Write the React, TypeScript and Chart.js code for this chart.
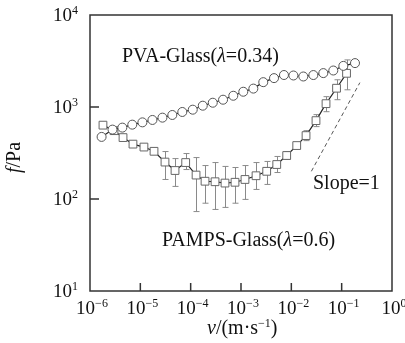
import React, { useEffect, useRef } from "react";
import { Chart, registerables } from "chart.js";

Chart.register(...registerables);

// ---- data ----
const pvaV = [1.7e-6, 2.8e-6, 4.39e-6, 6.92e-6, 1.1e-5, 1.74e-5, 2.75e-5, 4.32e-5, 6.82e-5, 1.1e-4, 1.74e-4, 2.75e-4, 4.4e-4, 7.03e-4, 1.11e-3, 1.76e-3, 2.77e-3, 4.53e-3, 7.14e-3, 1.1e-2, 1.73e-2, 2.74e-2, 4.32e-2, 6.82e-2, 0.108, 0.184];
const pvaF = [473, 568, 597, 643, 681, 723, 766, 819, 883, 935, 1033, 1113, 1200, 1325, 1465, 1585, 1862, 2060, 2227, 2200, 2146, 2225, 2336, 2493, 2799, 3000];

const pampsV = [1.81e-6, 3.0e-6, 4.53e-6, 7.14e-6, 1.18e-5, 1.87e-5, 3.09e-5, 4.89e-5, 7.96e-5, 1.28e-4, 1.93e-4, 3.05e-4, 4.81e-4, 7.6e-4, 1.2e-3, 1.99e-3, 3.24e-3, 5.13e-3, 8.09e-3, 1.28e-2, 1.96e-2, 3.09e-2, 4.89e-2, 7.91e-2, 0.125];
const pampsF = [635, 553, 465, 395, 367, 330, 252, 204, 249, 182, 156, 154, 149, 152, 163, 179, 200, 237, 297, 381, 489, 711, 1087, 1600, 2324];
const pampsHi: (number | null)[] = [null, null, null, null, null, null, 328, 275, 312, 282, 231, 249, 226, 220, 231, 249, 256, 290, 328, 410, 553, 826, 1295, 1977, 3250];
const pampsLo: (number | null)[] = [null, null, null, null, null, null, 163, 137, 209, 73, 90, 77, 81, 90, 99, 127, 144, 194, 269, 353, 431, 612, 889, 1200, 1538];

const slopeV = [0.025, 0.23];
const slopeF = [200, 1840];

const xTickValues = [1e-6, 1e-5, 1e-4, 1e-3, 1e-2, 1e-1, 1];
const xTickExponents = ["−6", "−5", "−4", "−3", "−2", "−1", "0"];
const yTickValues = [10, 100, 1000, 10000];
const yTickExponents = ["1", "2", "3", "4"];
const tickBase = "10";

const SERIF = '"Liberation Serif", "DejaVu Serif", "Times New Roman", serif';

type Run = { t: string; italic?: boolean; sup?: boolean };

function runFont(r: Run, size: number) {
  const s = r.sup ? Math.round(size * 0.62) : size;
  return `${r.italic ? "italic " : ""}${s}px ${SERIF}`;
}

function runsWidth(ctx: CanvasRenderingContext2D, runs: Run[], size: number) {
  let w = 0;
  for (const r of runs) {
    ctx.font = runFont(r, size);
    w += ctx.measureText(r.t).width;
  }
  return w;
}

function drawRuns(ctx: CanvasRenderingContext2D, runs: Run[], x: number, y: number, size: number, align: "left" | "center" | "right" = "left") {
  ctx.textAlign = "left";
  let cx = x;
  if (align !== "left") {
    const w = runsWidth(ctx, runs, size);
    cx = align === "center" ? x - w / 2 : x - w;
  }
  for (const r of runs) {
    ctx.font = runFont(r, size);
    ctx.fillText(r.t, cx, r.sup ? y - size * 0.36 : y);
    cx += ctx.measureText(r.t).width;
  }
}

const decorPlugin = {
  id: "decor",
  beforeDatasetsDraw(chart: any) {
    const ctx: CanvasRenderingContext2D = chart.ctx;
    const xs = chart.scales.x;
    const ys = chart.scales.y;
    ctx.save();
    ctx.strokeStyle = "#8a8a8a";
    ctx.lineWidth = 1;
    for (let i = 0; i < pampsV.length; i++) {
      const hi = pampsHi[i];
      const lo = pampsLo[i];
      if (hi == null || lo == null) continue;
      const px = Math.round(xs.getPixelForValue(pampsV[i])) + 0.5;
      const y1 = ys.getPixelForValue(hi);
      const y2 = ys.getPixelForValue(lo);
      ctx.beginPath();
      ctx.moveTo(px, y1);
      ctx.lineTo(px, y2);
      ctx.moveTo(px - 3, y1);
      ctx.lineTo(px + 3, y1);
      ctx.moveTo(px - 3, y2);
      ctx.lineTo(px + 3, y2);
      ctx.stroke();
    }
    ctx.restore();
  },
  afterDraw(chart: any) {
    const ctx: CanvasRenderingContext2D = chart.ctx;
    const a = chart.chartArea;
    const xs = chart.scales.x;
    const ys = chart.scales.y;
    ctx.save();
    ctx.strokeStyle = "#333";
    ctx.lineWidth = 1.5;
    ctx.strokeRect(a.left, a.top, a.right - a.left, a.bottom - a.top);
    ctx.beginPath();
    for (const v of xTickValues.slice(1, -1)) {
      const px = xs.getPixelForValue(v);
      ctx.moveTo(px, a.bottom);
      ctx.lineTo(px, a.bottom - 8);
    }
    for (const v of yTickValues.slice(1, -1)) {
      const py = ys.getPixelForValue(v);
      ctx.moveTo(a.left, py);
      ctx.lineTo(a.left + 9, py);
    }
    ctx.stroke();

    ctx.fillStyle = "#111";
    ctx.textBaseline = "alphabetic";

    // tick labels (positions from the scales)
    xTickValues.forEach((v, i) => {
      const px = xs.getPixelForValue(v);
      drawRuns(ctx, [{ t: tickBase }, { t: xTickExponents[i], sup: true }], px + 2, a.bottom + 23, 19, "center");
    });
    yTickValues.forEach((v, i) => {
      const py = ys.getPixelForValue(v);
      drawRuns(ctx, [{ t: tickBase }, { t: yTickExponents[i], sup: true }], a.left - 12, py + 6, 19, "right");
    });

    drawRuns(ctx, [{ t: "PVA-Glass(" }, { t: "λ", italic: true }, { t: "=0.34)" }], 122, 62, 20);
    drawRuns(ctx, [{ t: "PAMPS-Glass(" }, { t: "λ", italic: true }, { t: "=0.6)" }], 162, 246, 20);
    drawRuns(ctx, [{ t: "Slope=1" }], 313, 189, 20);
    drawRuns(ctx, [{ t: "v", italic: true }, { t: "/(m·s" }, { t: "−1", sup: true }, { t: ")" }], 207, 334, 20);

    ctx.save();
    ctx.translate(20, 173);
    ctx.rotate(-Math.PI / 2);
    drawRuns(ctx, [{ t: "f", italic: true }, { t: "/Pa" }], 0, 0, 20);
    ctx.restore();
    ctx.restore();
  },
};

export default function App() {
  const ref = useRef<HTMLCanvasElement>(null);
  useEffect(() => {
    if (!ref.current) return;
    const chart = new Chart(ref.current, {
      type: "scatter",
      data: {
        datasets: [
          {
            label: "PVA-Glass",
            data: pvaV.map((v, i) => ({ x: v, y: pvaF[i] })),
            showLine: true,
            borderColor: "#222",
            borderWidth: 1.2,
            pointStyle: "circle",
            pointRadius: 4.5,
            pointBorderColor: "#555",
            pointBackgroundColor: "#fff",
            pointBorderWidth: 1,
          },
          {
            label: "PAMPS-Glass",
            data: pampsV.map((v, i) => ({ x: v, y: pampsF[i] })),
            showLine: true,
            borderColor: "#222",
            borderWidth: 1.2,
            pointStyle: "rect",
            pointRadius: 5.5,
            pointBorderColor: "#666",
            pointBackgroundColor: "#fff",
            pointBorderWidth: 1,
          },
          {
            label: "Slope=1",
            data: slopeV.map((v, i) => ({ x: v, y: slopeF[i] })),
            showLine: true,
            borderColor: "#555",
            borderWidth: 1,
            borderDash: [4, 3],
            pointRadius: 0,
          },
        ],
      } as any,
      options: {
        responsive: false,
        animation: false,
        devicePixelRatio: 1,
        layout: { padding: { top: 15, right: 13, left: 0, bottom: 0 } },
        plugins: { legend: { display: false }, tooltip: { enabled: false } },
        scales: {
          x: {
            type: "logarithmic",
            min: 1e-6,
            max: 1,
            grid: { display: false, drawTicks: false },
            border: { display: false },
            afterBuildTicks: (s: any) => {
              s.ticks = xTickValues.map((v) => ({ value: v }));
            },
            afterFit: (s: any) => {
              s.height = 52;
              s.paddingLeft = 0;
              s.paddingRight = 0;
            },
            ticks: { display: false },
          },
          y: {
            type: "logarithmic",
            min: 10,
            max: 10000,
            grid: { display: false, drawTicks: false },
            border: { display: false },
            afterBuildTicks: (s: any) => {
              s.ticks = yTickValues.map((v) => ({ value: v }));
            },
            afterFit: (s: any) => {
              s.width = 90;
              s.paddingTop = 0;
              s.paddingBottom = 0;
            },
            ticks: { display: false },
          },
        },
      } as any,
      plugins: [decorPlugin],
    });
    return () => chart.destroy();
  }, []);
  return (
    <div style={{ position: "fixed", left: 0, top: 0, width: 405, height: 343, background: "#fff" }}>
      <canvas ref={ref} width={405} height={343} style={{ width: 405, height: 343, display: "block" }} />
    </div>
  );
}
